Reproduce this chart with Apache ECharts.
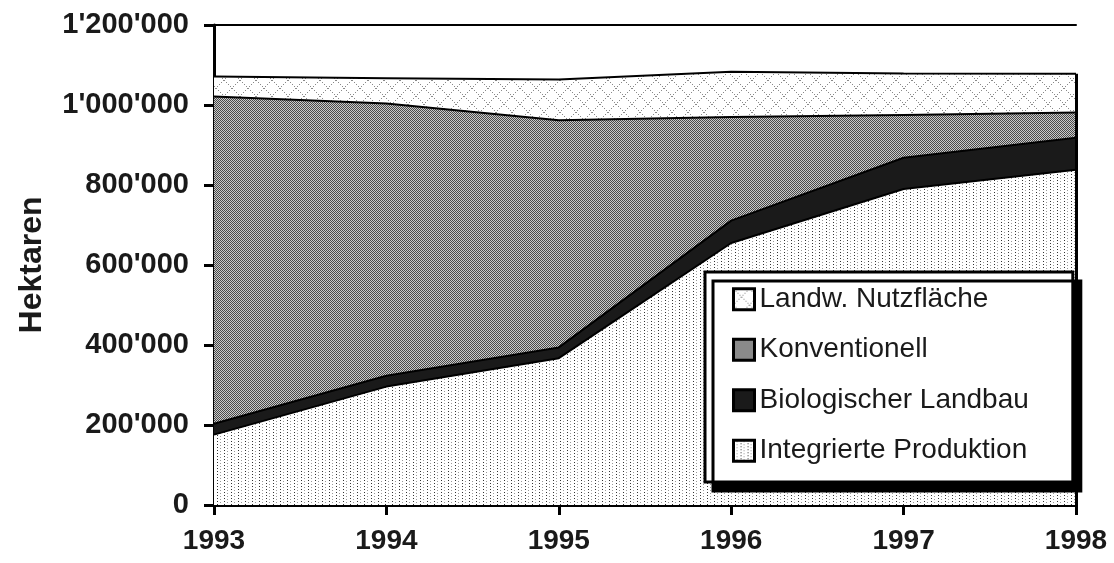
<!DOCTYPE html>
<html>
<head>
<meta charset="utf-8">
<script src="https://cdn.jsdelivr.net/npm/echarts@6/dist/echarts.min.js"></script>
<style>
  html, body { margin: 0; padding: 0; background: #fff; }
  #chart { width: 1114px; height: 563px; }
</style>
</head>
<body>
<div id="chart"></div>
<script>
// years on the x axis
var years = ["1993", "1994", "1995", "1996", "1997", "1998"];
// hectares per category (stacked, bottom to top)
var integrierte = [176000, 296000, 367000, 655000, 790000, 838000];
var biologisch = [27000, 27000, 27000, 56000, 78000, 80000];
var konventionell = [818000, 681000, 568000, 259000, 107000, 63000];
var nutzflaeche = [50000, 63000, 102000, 113000, 104000, 97000];
var yTicks = { min: 0, max: 1200000, interval: 200000 };

function tile(w, h, bg, dots) {
  var c = document.createElement("canvas");
  c.width = w;
  c.height = h;
  var ctx = c.getContext("2d");
  ctx.fillStyle = bg;
  ctx.fillRect(0, 0, w, h);
  dots.forEach(function (d) {
    ctx.fillStyle = d[2];
    ctx.fillRect(d[0], d[1], 1, 1);
  });
  return c;
}

// vertical dotted columns
var dotsIP = [];
for (var y = 0; y < 6; y += 3) {
  dotsIP.push([0, y, "#333"]);
  dotsIP.push([3, y + 1, "#999"]);
}
var patIP = { image: tile(7, 6, "#fff", dotsIP), repeat: "repeat" };

// dense checker
var patKonv = {
  image: tile(2, 2, "#cacaca", [[0, 0, "#4a4a4a"], [1, 1, "#4a4a4a"]]),
  repeat: "repeat"
};

// light diagonal cross hatch
var dotsLN = [];
for (var i = 0; i < 16; i += 2) {
  dotsLN.push([i, i, "#8a8a8a"]);
  dotsLN.push([15 - i, i, "#8a8a8a"]);
}
var patLN = { image: tile(16, 16, "#fff", dotsLN), repeat: "repeat" };

var total = years.map(function (_, k) {
  return integrierte[k] + biologisch[k] + konventionell[k] + nutzflaeche[k];
});

function fmt(v) {
  return String(v).replace(/\B(?=(\d{3})+(?!\d))/g, "'");
}

var chart = echarts.init(document.getElementById("chart"));

function areaSeries(name, data, fill, z) {
  return {
    name: name,
    type: "line",
    stack: "total",
    data: data,
    symbol: "none",
    z: z,
    itemStyle: { color: fill },
    lineStyle: { color: "#000", width: 2 },
    areaStyle: { color: fill, opacity: 1 },
    emphasis: { disabled: true },
    animation: false
  };
}

var seriesNutz = areaSeries("Landw. Nutzfläche", nutzflaeche, patLN, 2);
seriesNutz.markLine = {
  silent: true,
  symbol: "none",
  z: 6,
  label: { show: false },
  lineStyle: { color: "#000", width: 3, type: "solid" },
  data: [[
    { coord: [years[years.length - 1], 0] },
    { coord: [years[years.length - 1], total[total.length - 1]] }
  ]]
};

chart.setOption({
  animation: false,
  grid: { left: 214, right: 38, top: 25, bottom: 58, containLabel: false },
  legend: {
    z: 20,
    orient: "vertical",
    left: 705,
    top: 272,
    padding: [13, 44, 17, 27],
    itemGap: 22,
    itemWidth: 21,
    itemHeight: 21,
    icon: "rect",
    backgroundColor: "#fff",
    borderColor: "#000",
    borderWidth: 3,
    shadowColor: "#000",
    shadowBlur: 0,
    shadowOffsetX: 8,
    shadowOffsetY: 9,
    selectedMode: false,
    textStyle: {
      fontFamily: "Liberation Sans",
      fontSize: 28,
      lineHeight: 28.5,
      color: "#1a1a1a"
    },
    data: [
      { name: "Landw. Nutzfläche", itemStyle: { color: patLN, borderColor: "#000", borderWidth: 3 } },
      { name: "Konventionell", itemStyle: { color: patKonv, borderColor: "#000", borderWidth: 3 } },
      { name: "Biologischer Landbau", itemStyle: { color: "#1a1a1a", borderColor: "#000", borderWidth: 3 } },
      { name: "Integrierte Produktion", itemStyle: { color: patIP, borderColor: "#000", borderWidth: 3 } }
    ]
  },
  xAxis: [
    {
      type: "category",
      data: years,
      boundaryGap: false,
      axisLine: { lineStyle: { color: "#000", width: 3 } },
      axisTick: { length: 10, lineStyle: { color: "#000", width: 3 } },
      axisLabel: {
        margin: 22,
        fontFamily: "Liberation Sans",
        fontWeight: "bold",
        fontSize: 28,
        color: "#1a1a1a"
      }
    },
    {
      type: "category",
      data: years,
      position: "top",
      boundaryGap: false,
      axisLine: { onZero: false, lineStyle: { color: "#000", width: 2 } },
      axisTick: { show: false },
      axisLabel: { show: false }
    }
  ],
  yAxis: {
    type: "value",
    min: yTicks.min,
    max: yTicks.max,
    interval: yTicks.interval,
    name: "Hektaren",
    nameLocation: "middle",
    nameGap: 166,
    nameTextStyle: {
      fontFamily: "Liberation Sans",
      fontWeight: "bold",
      fontSize: 32,
      color: "#1a1a1a"
    },
    axisLine: { show: true, lineStyle: { color: "#000", width: 3 } },
    axisTick: { show: true, length: 10, lineStyle: { color: "#000", width: 3 } },
    splitLine: { show: false },
    axisLabel: {
      margin: 25,
      fontFamily: "Liberation Sans",
      fontWeight: "bold",
      fontSize: 29,
      color: "#1a1a1a",
      formatter: fmt
    }
  },
  series: [
    areaSeries("Integrierte Produktion", integrierte, patIP, 5),
    areaSeries("Biologischer Landbau", biologisch, "#1a1a1a", 4),
    areaSeries("Konventionell", konventionell, patKonv, 3),
    seriesNutz
  ]
});
</script>
</body>
</html>
